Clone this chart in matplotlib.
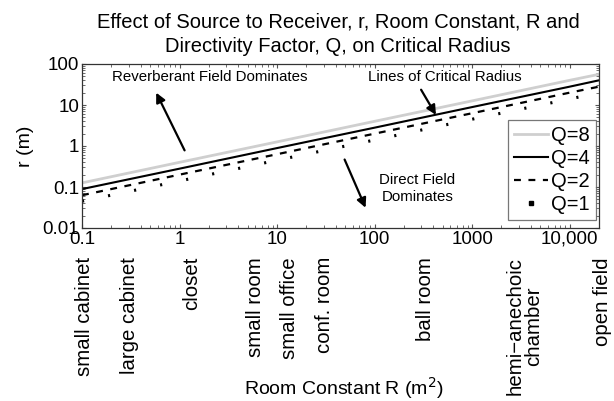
import matplotlib
matplotlib.use("Agg")
import matplotlib.pyplot as plt
import matplotlib.transforms as mtransforms
from matplotlib.lines import Line2D
from matplotlib.ticker import FixedLocator, LogLocator, NullFormatter

plt.rcParams['font.family'] = ['Liberation Sans', 'DejaVu Sans']

# Data
room_constant = [0.1, 1, 10, 100, 1000, 10000, 20000]
r_q8 = [0.126, 0.40, 1.26, 4.0, 12.6, 40, 56]
r_q4 = [0.089, 0.28, 0.89, 2.8, 8.9, 28, 40]
r_q2 = [0.063, 0.20, 0.63, 2.0, 6.3, 20, 28]
r_q1 = [0.045, 0.14, 0.45, 1.4, 4.5, 14, 20]

xticks = [0.1, 1, 10, 100, 1000, 10000]
xtick_labels = ['0.1', '1', '10', '100', '1000', '10,000']
yticks = [0.01, 0.1, 1, 10, 100]
ytick_labels = ['0.01', '0.1', '1', '10', '100']

room_names = ['small cabinet', 'large cabinet', 'closet', 'small room', 'small office',
              'conf. room', 'ball room', 'hemi\u2212anechoic\nchamber', 'open field']
room_pos = [0.107, 0.31, 1.34, 6.0, 13.5, 31, 330, 3450, 21500]

fig = plt.figure(figsize=(6.14, 4.01), dpi=100)
ax = fig.add_axes([82/614, 1-228/401, (599-82)/614, (228-64)/401])

l8, = ax.plot(room_constant, r_q8, color='#cfcfcf', lw=2.0, label='Q=8')
l4, = ax.plot(room_constant, r_q4, color='black', lw=1.5, label='Q=4')
l2, = ax.plot(room_constant, r_q2, color='black', lw=1.6, ls=(0, (3.1, 3.4)), label='Q=2')
l1, = ax.plot(room_constant, r_q1, color='black', lw=2.2, ls=(0, (0.7, 8.0)), label='Q=1')

ax.set_xscale('log')
ax.set_yscale('log')
ax.set_xlim(0.1, 20000)
ax.set_ylim(0.01, 100)
ax.xaxis.set_major_locator(FixedLocator(xticks))
ax.set_xticklabels(xtick_labels, fontsize=13.5)
ax.yaxis.set_major_locator(FixedLocator(yticks))
ax.set_yticklabels(ytick_labels, fontsize=13.5)
ax.xaxis.set_minor_locator(LogLocator(base=10, subs=range(2, 10), numticks=20))
ax.yaxis.set_minor_locator(LogLocator(base=10, subs=range(2, 10), numticks=20))
ax.xaxis.set_minor_formatter(NullFormatter())
ax.yaxis.set_minor_formatter(NullFormatter())
ax.tick_params(which='both', direction='in', top=True, right=True, color='#555555')
ax.tick_params(which='major', length=3, pad=2)
ax.tick_params(which='minor', length=2)
for s in ax.spines.values():
    s.set_color('#333333')
    s.set_linewidth(0.9)

ax.set_ylabel('r (m)', fontsize=14, labelpad=6)
fig.text(344/614, 1-388/401, 'Room Constant R (m$^2$)', fontsize=14, ha='center', va='center')

fig.text(338/614, 1-22/401, 'Effect of Source to Receiver, r, Room Constant, R and',
         fontsize=14.5, ha='center', va='center')
fig.text(338/614, 1-47/401, 'Directivity Factor, Q, on Critical Radius',
         fontsize=14.5, ha='center', va='center')

trans = mtransforms.blended_transform_factory(ax.transData, fig.transFigure)
for name, pos in zip(room_names, room_pos):
    ax.text(pos, 1-257/401, name, transform=trans, rotation=90, ha='center', va='top',
            fontsize=14.7, multialignment='center', linespacing=0.95, clip_on=False)

ax.text(2.05, 48, 'Reverberant Field Dominates', fontsize=10.8, ha='center', va='center')
ax.annotate('', xy=(0.56, 23), xytext=(1.16, 0.68),
            arrowprops=dict(arrowstyle='-|>', color='black', lw=1.6, mutation_scale=14))
ax.text(520, 48, 'Lines of Critical Radius', fontsize=10.8, ha='center', va='center')
ax.annotate('', xy=(440, 5.0), xytext=(290, 27),
            arrowprops=dict(arrowstyle='-|>', color='black', lw=1.6, mutation_scale=14))
ax.text(275, 0.091, 'Direct Field\nDominates', fontsize=10.8, ha='center', va='center',
        linespacing=1.25)
ax.annotate('', xy=(83, 0.027), xytext=(48, 0.54),
            arrowprops=dict(arrowstyle='-|>', color='black', lw=1.6, mutation_scale=14))

q1_handle = Line2D([], [], ls='none', marker='s', ms=2.2, color='black')
leg = ax.legend([l8, l4, l2, q1_handle], ['Q=8', 'Q=4', 'Q=2', 'Q=1'],
                loc='lower right', bbox_to_anchor=((596-82)/517, (228-220)/164),
                fontsize=14.5, frameon=True, fancybox=False,
                handlelength=1.7, handletextpad=0.15, borderpad=0.3, labelspacing=0.2,
                borderaxespad=0.0)
leg.get_frame().set_edgecolor('#555555')
leg.get_frame().set_linewidth(0.9)

fig.savefig('out.png', dpi=100)
